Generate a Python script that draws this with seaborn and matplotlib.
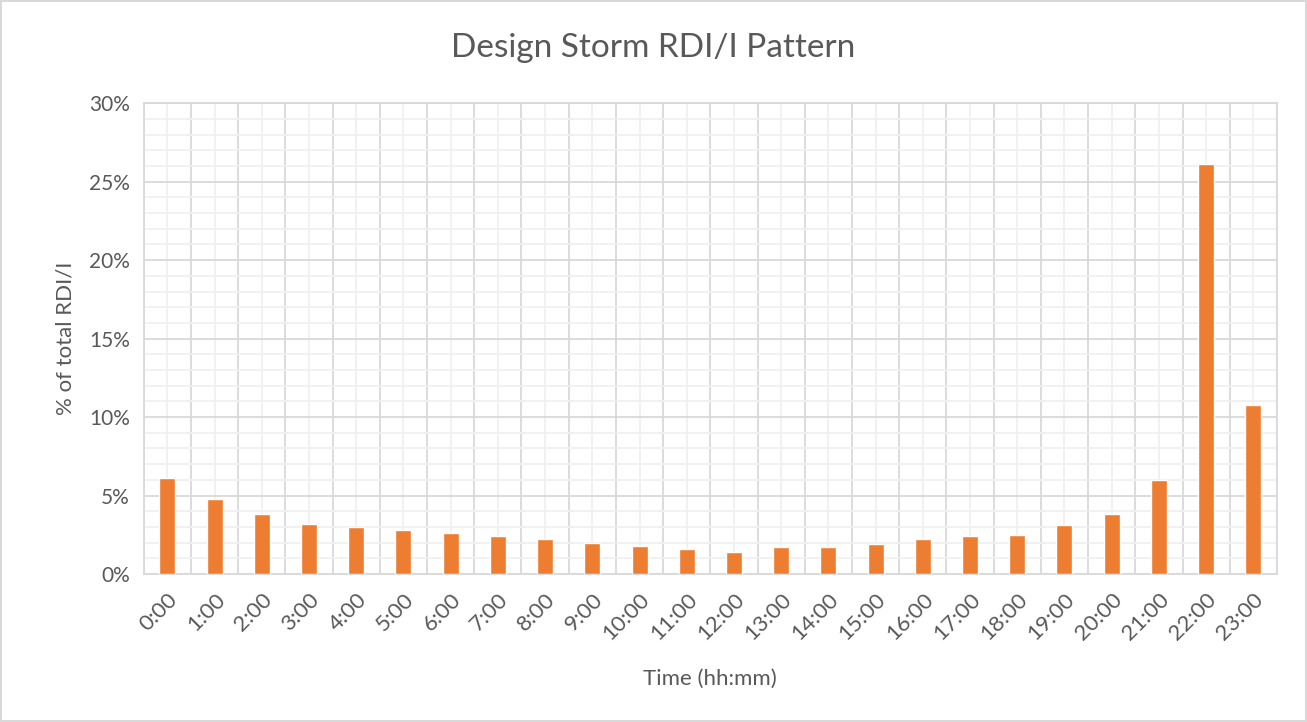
import numpy as np
import matplotlib.pyplot as plt
from matplotlib.ticker import MultipleLocator, FixedLocator, PercentFormatter
import pandas as pd
import seaborn as sns

# valores (% do total RDI/I por hora)
hours = [f"{h}:00" for h in range(24)]
pct = [6.1, 4.8, 3.8, 3.2, 3.0, 2.8, 2.6, 2.4, 2.2, 2.0, 1.8, 1.6,
       1.4, 1.75, 1.75, 1.9, 2.2, 2.4, 2.5, 3.1, 3.8, 6.0, 26.1, 10.8]

data = pd.DataFrame({"time": hours, "pct": pct})

sns.set_style("white")
plt.rcParams['font.family'] = ['Lato', 'DejaVu Sans']

txt = '#595959'
fig = plt.figure(figsize=(13.07, 7.22), dpi=100)
fig.patch.set_edgecolor('#d9d9d9')
fig.patch.set_linewidth(1.5)
ax = fig.add_axes([0.110, 0.205, 0.867, 0.652])

sns.barplot(data=data, x="time", y="pct", color='#ed7d31', saturation=1,
            width=0.34, ax=ax, zorder=3)

ax.set_ylim(0, 30)
ax.set_xlim(-0.5, 23.5)
ax.yaxis.set_major_locator(MultipleLocator(5))
ax.yaxis.set_minor_locator(MultipleLocator(1))
ax.yaxis.set_major_formatter(PercentFormatter(decimals=0))
ax.xaxis.set_minor_locator(FixedLocator(np.arange(-0.5, 24, 1)))

# grade: linhas fortes nos limites das categorias e a cada 5%
ax.grid(which='major', axis='y', color='#d9d9d9', lw=1.3, zorder=0)
ax.grid(which='minor', axis='y', color='#f0f0f0', lw=1.3, zorder=0)
ax.grid(which='minor', axis='x', color='#d9d9d9', lw=1.3, zorder=0)
ax.grid(which='major', axis='x', color='#f0f0f0', lw=1.3, zorder=0)
ax.set_axisbelow(True)

for s in ax.spines.values():
    s.set_color('#d9d9d9')
    s.set_linewidth(1.3)

ax.tick_params(which='both', length=0, colors=txt)
ax.tick_params(axis='x', labelsize=16, pad=11)
ax.tick_params(axis='y', labelsize=15, pad=10)
plt.setp(ax.get_xticklabels(), rotation=45, ha='right', rotation_mode='anchor')

fig.text(0.5, 1 - 48 / 722, "Design Storm RDI/I Pattern", fontsize=24,
         color=txt, ha='center', va='center')
ax.set_xlabel("Time (hh:mm)", fontsize=16, color=txt, labelpad=18)
ax.set_ylabel("% of total RDI/I", fontsize=16, color=txt, labelpad=10)

fig.savefig("out.png", dpi=100, edgecolor=fig.get_edgecolor())
